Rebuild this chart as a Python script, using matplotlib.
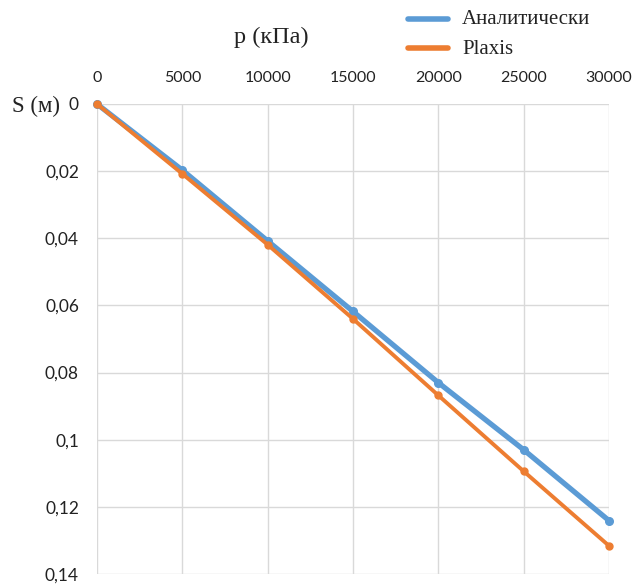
import numpy as np
import matplotlib.pyplot as plt
from matplotlib.lines import Line2D

# Settlement vs. pressure
p = [0, 5000, 10000, 15000, 20000, 25000, 30000]
s_analytic = [0, 0.0197, 0.0408, 0.0618, 0.0830, 0.1030, 0.1241]
s_plaxis = [0, 0.0208, 0.0419, 0.0640, 0.0868, 0.1094, 0.1316]
series_names = ['Аналитически', 'Plaxis']

x_ticks = [0, 5000, 10000, 15000, 20000, 25000, 30000]
y_ticks = [0, 0.02, 0.04, 0.06, 0.08, 0.1, 0.12, 0.14]
y_labels = ['0', '0,02', '0,04', '0,06', '0,08', '0,1', '0,12', '0,14']

blue = '#5B9BD5'
orange = '#ED7D31'

W, H = 636, 586
fig = plt.figure(figsize=(W / 100, H / 100), dpi=100)
ax = fig.add_axes([97 / W, 1 - 574 / H, (609 - 97) / W, (574 - 104) / H])

ax.plot(p, s_analytic, color=blue, lw=3.8, marker='o', ms=5.5,
        zorder=3, clip_on=False)
ax.plot(p, s_plaxis, color=orange, lw=2.8, marker='o', ms=5,
        zorder=4, clip_on=False)

ax.set_xlim(0, 30000)
ax.set_ylim(0.14, 0)
ax.set_xticks(x_ticks)
ax.set_yticks(y_ticks)
ax.set_yticklabels(y_labels)
ax.xaxis.tick_top()
ax.tick_params(length=0, labelcolor='#222222')
ax.tick_params(axis='x', labelsize=11.5, pad=14)
ax.tick_params(axis='y', labelsize=12.5, pad=13)
for lab in ax.get_xticklabels() + ax.get_yticklabels():
    lab.set_family('Lato')
ax.grid(True, color='#D9D9D9', lw=1)
for sp in ax.spines.values():
    sp.set_visible(False)
ax.set_axisbelow(True)

# axis titles
fig.text(271 / W, 1 - 37 / H, 'p (кПа)', ha='center', va='center',
         family='Liberation Serif', fontsize=17.5, color='#222222')
fig.text(12 / W, 1 - 106 / H, 'S (м)', ha='left', va='center',
         family='Liberation Serif', fontsize=16.5, color='#222222')

# legend in the top right corner
for name, col, y in zip(series_names, [blue, orange], [19, 48]):
    fig.add_artist(Line2D([408 / W, 448 / W], [1 - y / H, 1 - y / H],
                          color=col, lw=4, solid_capstyle='round'))
    fig.text(462 / W, 1 - (y + 1) / H, name, ha='left', va='center',
             family='Liberation Serif', fontsize=15, color='#222222')

fig.savefig('out.png', dpi=100)
